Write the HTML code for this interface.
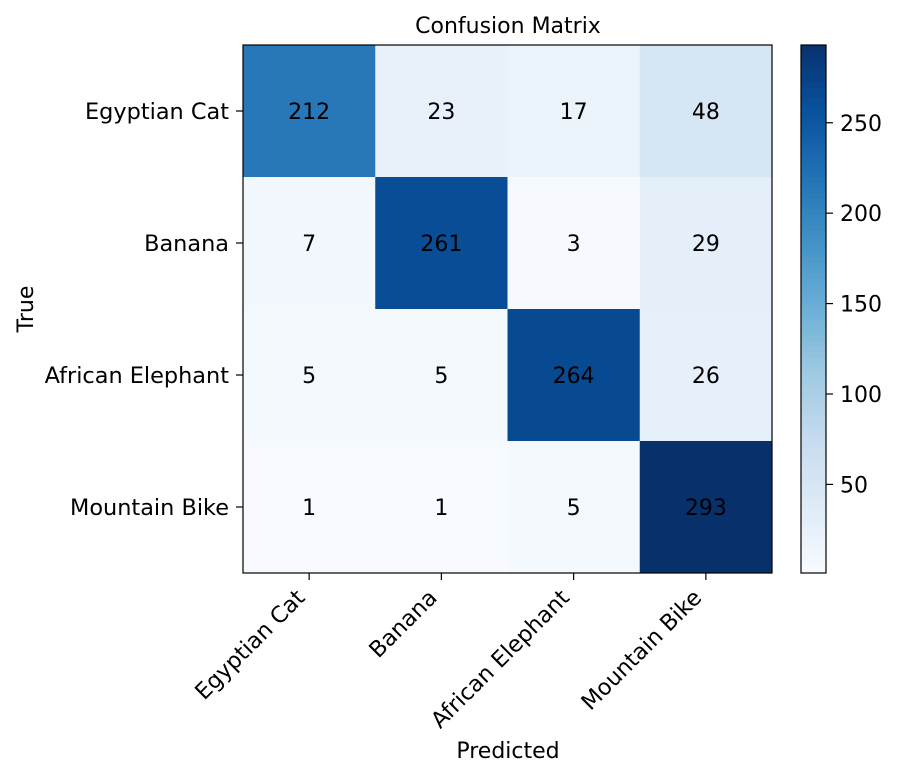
<!DOCTYPE html>
<html><head><meta charset="utf-8"><style>
html,body{margin:0;padding:0;background:#fff;}
svg{display:block;font-family:"DejaVu Sans","Liberation Sans",sans-serif;}
</style></head><body>
<svg id="chart" width="901" height="778" viewBox="0 0 901 778" xmlns="http://www.w3.org/2000/svg">
<text x="508" y="33" text-anchor="middle" font-size="22">Confusion Matrix</text>
<text transform="translate(33,309) rotate(-90)" text-anchor="middle" font-size="22">True</text>
<text x="508" y="758" text-anchor="middle" font-size="22">Predicted</text>
<g id="cells"></g><g id="axes"></g><g id="cbar"></g>
</svg>
<script>
const trueLabels = ["Egyptian Cat","Banana","African Elephant","Mountain Bike"];
const predLabels = ["Egyptian Cat","Banana","African Elephant","Mountain Bike"];
const row0 = [212,23,17,48];
const row1 = [7,261,3,29];
const row2 = [5,5,264,26];
const row3 = [1,1,5,293];
const matrix = [row0,row1,row2,row3];
const cbarTicks = [50,100,150,200,250];

const NS="http://www.w3.org/2000/svg";
const L=243,T=45,W=529,H=528;
const n=matrix.length, cw=W/n, ch=H/n;
const all=matrix.flat(), vmin=Math.min(...all), vmax=Math.max(...all);
const stops=["#f7fbff","#deebf7","#c6dbef","#9ecae1","#6baed6","#4292c6","#2171b5","#08519c","#08306b"];
function hex(h){return [1,3,5].map(i=>parseInt(h.substr(i,2),16));}
function cmap(t){t=Math.max(0,Math.min(1,t));const p=t*8,i=Math.min(7,Math.floor(p)),f=p-i;const a=hex(stops[i]),b=hex(stops[i+1]);return "rgb("+a.map((v,k)=>Math.round(v+(b[k]-v)*f)).join(",")+")";}
function xs(j){return L+j*cw;} function ys(i){return T+i*ch;}
function mk(tag,attrs,parent,txt){const e=document.createElementNS(NS,tag);for(const k in attrs)e.setAttribute(k,attrs[k]);if(txt!==undefined)e.textContent=txt;parent.appendChild(e);return e;}
const cells=document.getElementById("cells"),axes=document.getElementById("axes"),cb=document.getElementById("cbar");
matrix.forEach((row,i)=>row.forEach((v,j)=>{
 const r=mk("rect",{x:xs(j),y:ys(i),width:cw+0.5,height:ch+0.5,fill:cmap((v-vmin)/(vmax-vmin))},cells);
 
 
 const t=mk("text",{x:xs(j)+cw/2,y:ys(i)+ch/2+8,"text-anchor":"middle","font-size":"22",fill:"#000"},cells,String(v));
 
 
}));
const fr=mk("rect",{x:L,y:T,width:W,height:H,fill:"none",stroke:"#000","stroke-width":1.2},axes);


trueLabels.forEach((s,i)=>{
 const y=ys(i)+ch/2;
 mk("line",{x1:L-7,x2:L,y1:y,y2:y,stroke:"#000","stroke-width":1.2},axes);
 const t=mk("text",{x:L-14,y:y+8,"text-anchor":"end","font-size":"22.4"},axes,s);
 
 
});
predLabels.forEach((s,j)=>{
 const x=xs(j)+cw/2;
 mk("line",{x1:x,x2:x,y1:T+H,y2:T+H+7,stroke:"#000","stroke-width":1.2},axes);
 const t=mk("text",{transform:"translate("+(x-3)+",599) rotate(-45)","text-anchor":"end","font-size":"22.4"},axes,s);
 
 
});
const CX=801,CW=25;
function cy(v){return T+H-(v-vmin)/(vmax-vmin)*H;}
const N=100;
for(let k=0;k<N;k++){
 const v0=vmin+(vmax-vmin)*k/N, v1=vmin+(vmax-vmin)*(k+1)/N;
 const r=mk("rect",{x:CX,y:cy(v1),width:CW,height:cy(v0)-cy(v1)+0.6,fill:cmap((v0-vmin)/(vmax-vmin))},cb);
 
 
}
const cf=mk("rect",{x:CX,y:T,width:CW,height:H,fill:"none",stroke:"#000","stroke-width":1.2},cb);


cbarTicks.forEach(v=>{
 const y=cy(v);
 mk("line",{x1:CX+CW,x2:CX+CW+7,y1:y,y2:y,stroke:"#000","stroke-width":1.2},cb);
 const t=mk("text",{x:CX+CW+14,y:y+8,"font-size":"22"},cb,String(v));
 
 
});
</script>
</body></html>
